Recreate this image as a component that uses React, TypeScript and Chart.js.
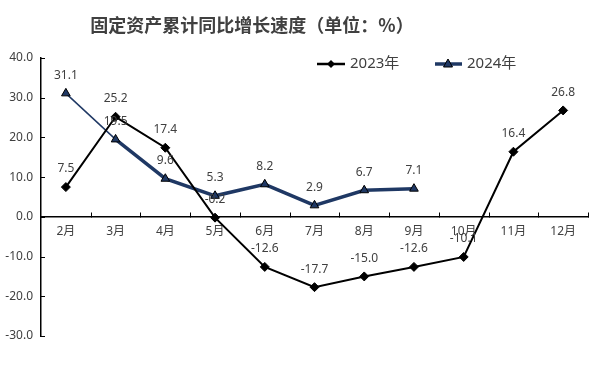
import React, { useEffect, useRef } from 'react';
import { Chart, registerables } from 'chart.js';

Chart.register(...registerables);

const titleText = '固定资产累计同比增长速度（单位：%）';
const categories = ['2月', '3月', '4月', '5月', '6月', '7月', '8月', '9月', '10月', '11月', '12月'];
const series2023 = [7.5, 25.2, 17.4, -0.2, -12.6, -17.7, -15.0, -12.6, -10.1, 16.4, 26.8];
const series2024 = [31.1, 19.5, 9.6, 5.3, 8.2, 2.9, 6.7, 7.1, null, null, null];
const label2023 = '2023年';
const label2024 = '2024年';
const yMin = -30;
const yMax = 40;
const yStep = 10;

const TEXT = '#404040';
const NAVY = '#1F3864';
const FONT = "'Noto Sans', 'Noto Sans CJK SC', sans-serif";

function drawDiamond(ctx: CanvasRenderingContext2D, x: number, y: number, r: number) {
  ctx.beginPath();
  ctx.moveTo(x, y - r);
  ctx.lineTo(x + r, y);
  ctx.lineTo(x, y + r);
  ctx.lineTo(x - r, y);
  ctx.closePath();
  ctx.fillStyle = '#000';
  ctx.fill();
}

function drawTri(ctx: CanvasRenderingContext2D, x: number, y: number, r: number) {
  ctx.beginPath();
  ctx.moveTo(x, y - r);
  ctx.lineTo(x + r * 0.9, y + r * 0.6);
  ctx.lineTo(x - r * 0.9, y + r * 0.6);
  ctx.closePath();
  ctx.fillStyle = NAVY;
  ctx.fill();
  ctx.strokeStyle = '#000';
  ctx.lineWidth = 1;
  ctx.stroke();
}

const decorPlugin = {
  id: 'decor',
  afterDatasetsDraw(chart: any) {
    const ctx: CanvasRenderingContext2D = chart.ctx;
    const xs = chart.scales.x;
    const ys = chart.scales.y;
    const area = chart.chartArea;
    ctx.save();
    // x tick marks (pointing up) at category boundaries
    const y0 = Math.round(ys.getPixelForValue(0)) + 0.5;
    ctx.strokeStyle = '#000';
    ctx.lineWidth = 1;
    const n = categories.length;
    const w = (area.right - area.left) / n;
    for (let k = 1; k <= n; k++) {
      const x = Math.round(area.left + k * w) + 0.5;
      ctx.beginPath();
      ctx.moveTo(x, y0);
      ctx.lineTo(x, y0 - 5);
      ctx.stroke();
    }
    // y tick marks (pointing right)
    for (let v = yMin; v <= yMax; v += yStep) {
      const y = Math.round(ys.getPixelForValue(v)) + 0.5;
      ctx.beginPath();
      ctx.moveTo(area.left, y);
      ctx.lineTo(area.left + 4, y);
      ctx.stroke();
    }
    // data labels
    ctx.font = `12px ${FONT}`;
    ctx.fillStyle = TEXT;
    ctx.textAlign = 'center';
    ctx.textBaseline = 'middle';
    chart.data.datasets.forEach((ds: any, di: number) => {
      const meta = chart.getDatasetMeta(di);
      meta.data.forEach((pt: any, i: number) => {
        const v = ds.data[i];
        if (v === null || v === undefined) return;
        ctx.fillText(v.toFixed(1), pt.x, pt.y - 18);
      });
    });
    // title
    ctx.font = `bold 18px 'Noto Sans CJK SC', serif`;
    ctx.fillStyle = TEXT;
    ctx.fillText(titleText, 252, 25);
    // legend
    const ly = 64;
    ctx.textAlign = 'left';
    ctx.font = `15px ${FONT}`;
    ctx.strokeStyle = '#000';
    ctx.lineWidth = 2.5;
    ctx.beginPath();
    ctx.moveTo(317, ly);
    ctx.lineTo(345, ly);
    ctx.stroke();
    drawDiamond(ctx, 331, ly, 4);
    ctx.fillStyle = TEXT;
    ctx.fillText(label2023, 350, ly);
    ctx.strokeStyle = NAVY;
    ctx.lineWidth = 3.5;
    ctx.beginPath();
    ctx.moveTo(435, ly);
    ctx.lineTo(462, ly);
    ctx.stroke();
    drawTri(ctx, 448, ly, 5);
    ctx.fillStyle = TEXT;
    ctx.fillText(label2024, 467, ly);
    ctx.restore();
  },
};

export default function App() {
  const ref = useRef<HTMLCanvasElement>(null);
  useEffect(() => {
    document.body.style.margin = '0';
    const chart = new Chart(ref.current as HTMLCanvasElement, {
      type: 'line',
      data: {
        labels: categories,
        datasets: [
          {
            label: label2023,
            data: series2023,
            borderColor: '#000',
            backgroundColor: '#000',
            borderWidth: 2,
            pointStyle: 'rectRot',
            pointRadius: 4.5,
            pointBorderWidth: 1,
            pointBorderColor: '#000',
            pointBackgroundColor: '#000',
            tension: 0,
          },
          {
            label: label2024,
            data: series2024,
            borderColor: NAVY,
            backgroundColor: NAVY,
            borderWidth: 3.5,
            segment: {
              borderWidth: (c: any) => (c.p0DataIndex === 0 ? 1.5 : 3.5),
            },
            pointStyle: 'triangle',
            pointRadius: 5,
            pointBorderWidth: 1,
            pointBorderColor: '#000',
            pointBackgroundColor: NAVY,
            tension: 0,
          },
        ],
      } as any,
      options: {
        responsive: false,
        animation: false,
        layout: { padding: { left: 0, right: 14, top: 58, bottom: 49 } },
        plugins: {
          legend: { display: false },
          title: { display: false },
          tooltip: { enabled: false },
        },
        scales: {
          x: {
            type: 'category',
            position: { y: 0 } as any,
            offset: true,
            grid: { display: false, drawTicks: false },
            border: { display: true, color: '#000', width: 1.5 },
            ticks: { color: TEXT, font: { size: 12, family: FONT }, padding: 8, maxRotation: 0, autoSkip: false },
            afterFit: (s: any) => { s.height = 0; },
          },
          y: {
            min: yMin,
            max: yMax,
            grid: { display: false, drawTicks: false },
            border: { display: true, color: '#000', width: 1.5 },
            ticks: {
              stepSize: yStep,
              color: TEXT,
              font: { size: 12, family: FONT },
              padding: 8,
              callback: (v: any) => Number(v).toFixed(1),
            },
            afterFit: (s: any) => { s.width = 41; },
          },
        },
      },
      plugins: [decorPlugin],
    });
    return () => chart.destroy();
  }, []);
  return <canvas ref={ref} width={602} height={385} style={{ display: 'block', width: 602, height: 385 }} />;
}
